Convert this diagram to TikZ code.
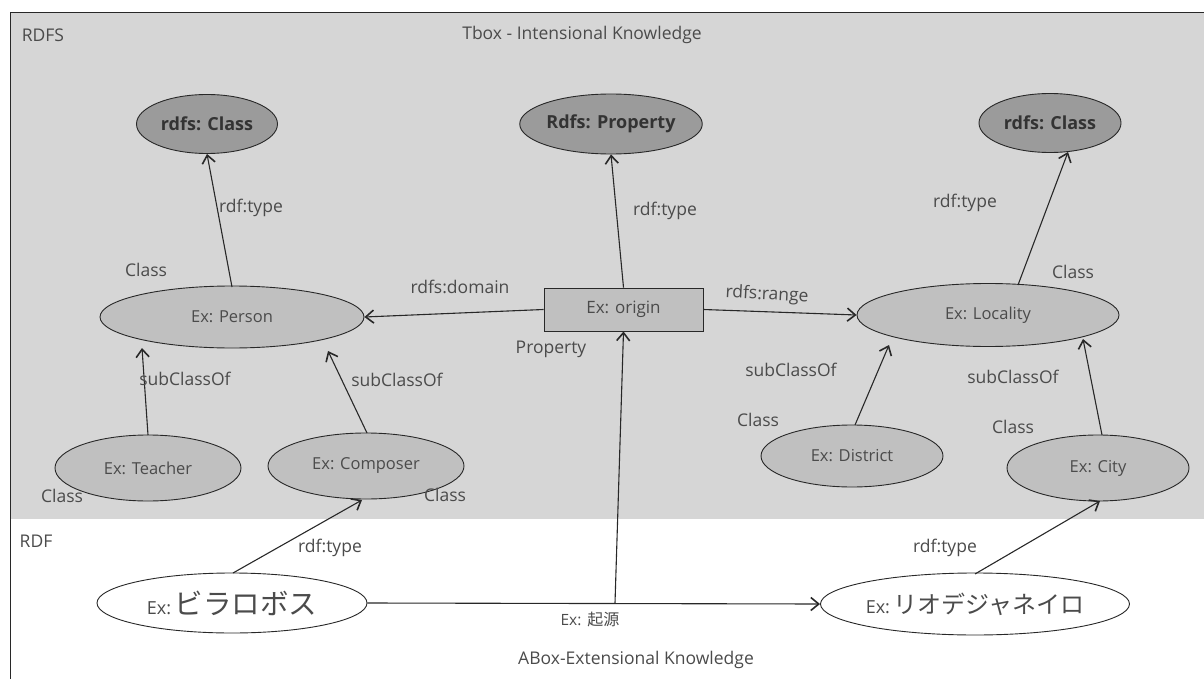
\documentclass[tikz,border=0pt]{standalone}
\usepackage{fontspec}
\setmainfont{Open Sans}
\newfontfamily\jpfont{Noto Sans CJK JP}
\usetikzlibrary{shapes.geometric,arrows.meta,patterns}
\definecolor{bgshade}{RGB}{214,214,214}
\definecolor{topfill}{RGB}{155,155,155}
\definecolor{midfill}{RGB}{192,192,192}
\definecolor{txt}{RGB}{75,75,75}
\definecolor{edgecol}{RGB}{40,40,40}
\tikzset{
  topell/.style={ellipse,draw=edgecol,line width=0.9pt,fill=topfill,inner sep=0pt,
    font=\fontsize{18}{21}\selectfont\bfseries,text=black!80},
  midell/.style={ellipse,draw=edgecol,line width=0.9pt,fill=midfill,inner sep=0pt,
    font=\fontsize{16.5}{19}\selectfont,text=txt},
  rdfell/.style={ellipse,draw=edgecol,line width=0.9pt,fill=white,inner sep=0pt,text=txt},
  propbox/.style={rectangle,draw=edgecol,line width=0.9pt,fill=midfill,inner sep=0pt,
    minimum width=159pt,minimum height=43pt,font=\fontsize{17}{20}\selectfont,text=txt},
  lbl/.style={font=\fontsize{17.5}{20}\selectfont,text=txt,inner sep=0pt},
  conn/.style={draw=edgecol,line width=1.1pt,-{Straight Barb[length=8pt,width=13pt,line width=1.6pt]}},
}
\begin{document}
\begin{tikzpicture}[x=1pt,y=-1pt]
\useasboundingbox (0,0) rectangle (1204,679);
% Tbox region
\fill[bgshade] (10,13) rectangle (1204,519);
\draw[edgecol,line width=1pt] (1204,13) -- (10,13) -- (10,679);

\node[lbl] (rdfs) at (43,35) {RDFS};
\node[lbl] (tbox) at (582,35) {Tbox - Intensional Knowledge};
\node[lbl] (rdf) at (36,541) {RDF};
\node[lbl] (abox) at (636,660) {ABox-Extensional Knowledge};

% top classes
\node[topell,minimum width=141pt,minimum height=59pt] (cls1) at (207,124) {rdfs: Class};
\node[topell,minimum width=158pt,minimum height=60pt] (prop) at (611,124) {Rdfs: Property};
\node[topell,minimum width=142pt,minimum height=59pt] (cls2) at (1050,123) {rdfs: Class};

% middle
\node[midell,minimum width=264pt,minimum height=62pt] (person) at (232,317) {Ex: Person};
\node[propbox] (origin) at (623.5,309.5) {Ex: origin};
\node[midell,minimum width=262pt,minimum height=63pt] (loc) at (988,315) {Ex: Locality};

\node[midell,minimum width=186pt,minimum height=66pt] (teacher) at (148,468) {Ex: Teacher};
\node[midell,minimum width=196pt,minimum height=66pt] (composer) at (366,466) {Ex: Composer};
\node[midell,minimum width=182pt,minimum height=62pt] (district) at (852,456) {Ex: District};
\node[midell,minimum width=182pt,minimum height=66pt] (city) at (1098,468) {Ex: City};

% RDF instances
\node[rdfell,minimum width=270pt,minimum height=60pt] (villa) at (232,603)
  {{\fontsize{18}{20}\selectfont Ex:} {\jpfont\fontsize{28.5}{32}\selectfont ビラロボス}};
\node[rdfell,minimum width=292pt,minimum height=62pt] (rio) at (975,604)
  {{\fontsize{18}{20}\selectfont Ex:} {\jpfont\fontsize{24}{28}\selectfont リオデジャネイロ}};

% connectors
\coordinate (pTop) at (232,287);
\draw[conn] (pTop) -- (cls1.south);
\draw[conn] (origin.north) -- (prop.south);
\coordinate (lTop) at (1018,285);
\coordinate (c2Bot) at (1068,152);
\draw[conn] (lTop) -- (c2Bot);
\draw[conn] (origin.west) -- (person.east);
\draw[conn] (origin.east) -- (loc.west);
\coordinate (tTop) at (148,435);
\coordinate (pBot1) at (142,348);
\draw[conn] (tTop) -- (pBot1);
\coordinate (cTop) at (367,433);
\coordinate (pBot2) at (328,351);
\draw[conn] (cTop) -- (pBot2);
\coordinate (dTop) at (855,425);
\coordinate (lBot1) at (889,345);
\draw[conn] (dTop) -- (lBot1);
\coordinate (ciTop) at (1102,435);
\coordinate (lBot2) at (1083,339);
\draw[conn] (ciTop) -- (lBot2);
\coordinate (vTop) at (233,573);
\coordinate (coBot) at (362,500);
\draw[conn] (vTop) -- (coBot);
\coordinate (rTop) at (975,574);
\coordinate (ciBot) at (1100,501);
\draw[conn] (rTop) -- (ciBot);
\draw[conn] (villa.east) -- (rio.west);
\coordinate (mid) at (615,603);
\draw[conn] (mid) -- (origin.south);

% labels
\node[lbl] (l1) at (251,208) {rdf:type};
\node[lbl] (l2) at (665,211) {rdf:type};
\node[lbl] (l3) at (965,203) {rdf:type};
\node[lbl] (l4) at (146,270) {Class};
\node[lbl] (l5) at (1073,272) {Class};
\node[lbl] (l6) at (460,287) {rdfs:domain};
\node[lbl,rotate=-3] (l7) at (767,295) {rdfs:range};
\node[lbl] (l8) at (551,349) {Property};
\node[lbl] (l9) at (185,379) {subClassOf};
\node[lbl] (l10) at (397,380) {subClassOf};
\node[lbl] (l11) at (791,370) {subClassOf};
\node[lbl] (l12) at (1013,377) {subClassOf};
\node[lbl] (l13) at (758,420) {Class};
\node[lbl] (l14) at (1013,427) {Class};
\node[lbl] (l15) at (62,496) {Class};
\node[lbl] (l16) at (445,495) {Class};
\node[lbl] (l17) at (330,548) {rdf:type};
\node[lbl] (l18) at (945,548) {rdf:type};
\node[lbl] (l19) at (590,619) {{\fontsize{15.5}{17}\selectfont Ex:} {\jpfont\fontsize{16}{18}\selectfont 起源}};
\end{tikzpicture}
\end{document}
